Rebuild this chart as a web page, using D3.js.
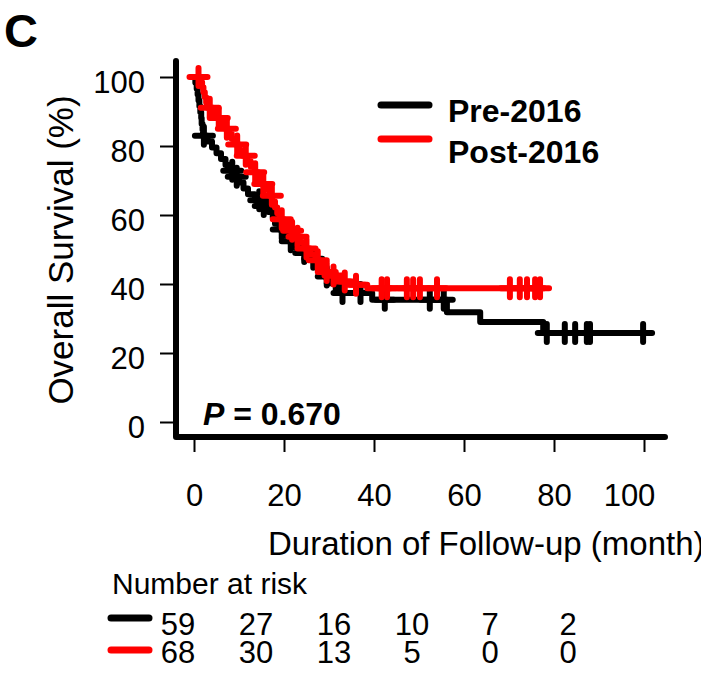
<!DOCTYPE html>
<html>
<head>
<meta charset="utf-8">
<script src="https://cdn.jsdelivr.net/npm/d3@7"></script>
<style>
  body { margin: 0; background: #fff; }
  svg { display: block; font-family: "Liberation Sans", Arial, sans-serif; }
</style>
</head>
<body>
<div id="chart"></div>
<script>
// Kaplan-Meier curves, values (month, survival %)
var groups = ["Pre-2016", "Post-2016"];
var colors = ["#000000", "#ff0000"];

var preTimes = [0, 0.3, 0.6, 0.8, 1.0, 1.2, 1.4, 1.6, 1.7, 1.9, 2.0, 3.0, 4.0, 5.0, 6.0, 7.0, 8.0, 9.0, 10.0, 11.0, 12.0, 13.5, 15.0, 16.5, 17.5, 18.0, 19.0, 20.0, 21.0, 22.0, 24.0, 26.0, 27.0, 28.0, 29.0, 30.0, 30.7, 32.4, 39.6, 56.2, 63.6, 77.6];
var preSurv  = [100, 98.3, 96.6, 94.9, 93.2, 91.5, 89.8, 88.1, 86.4, 84.7, 83.0, 81.3, 79.6, 77.9, 76.2, 74.5, 72.8, 71.1, 69.4, 67.7, 66.0, 64.3, 62.6, 60.9, 59.2, 57.5, 55.8, 54.1, 52.4, 50.7, 49.0, 47.3, 45.6, 43.9, 42.2, 41.2, 40.2, 37.4, 35.4, 31.8, 29.0, 25.8];
var preEnd = 100;
var preCensor = [2.2, 8.5, 9.5, 14.5, 15.5, 19.5, 21.5, 24.5, 26.5, 29.5, 31.5, 33, 37, 42.4, 52.4, 55.5, 78.4, 82.4, 84.7, 87.3, 88, 99.8];

var postTimes = [0, 1.5, 1.8, 2.1, 2.4, 2.7, 3.0, 4.2, 5.0, 6.0, 7.0, 7.8, 8.4, 9.2, 10.0, 10.8, 11.8, 12.6, 13.5, 14.3, 15.2, 16.0, 16.8, 17.4, 18.0, 18.5, 19.0, 20.0, 21.3, 22.5, 23.5, 24.5, 25.8, 27.0, 28.0, 29.0, 30.0, 31.5, 32.4, 34.7, 38.5];
var postSurv  = [100, 98.5, 97.0, 95.6, 94.1, 92.6, 91.1, 89.6, 88.1, 86.6, 85.0, 83.5, 82.0, 80.4, 78.8, 77.2, 75.6, 74.0, 72.4, 70.7, 69.0, 67.3, 65.6, 63.9, 62.2, 60.5, 58.8, 57.1, 55.4, 53.7, 52.0, 50.3, 48.6, 46.9, 45.2, 43.5, 42.5, 41.6, 40.7, 39.8, 38.8];
var postEnd = 77;
var postCensor = [1.0, 3.5, 5.5, 7.3, 9.6, 11.5, 13.6, 15.4, 17.3, 19.5, 21.8, 23, 25, 27.5, 29.5, 31, 33.5, 36, 41.7, 42.9, 47.3, 48.7, 50.2, 54, 70.2, 72.4, 74, 75.8, 76.9];

// number at risk table
var riskTimes = [0, 20, 40, 60, 80, 100];
var preRisk = [59, 27, 16, 10, 7, 2];
var postRisk = [68, 30, 13, 5, 0, 0];

var xTicks = [0, 20, 40, 60, 80, 100];
var yTicks = [0, 20, 40, 60, 80, 100];
var pText = "0.670";

var width = 701, height = 675;
var svg = d3.select("#chart").append("svg")
    .attr("width", width)
    .attr("height", height);

var x = d3.scaleLinear().domain([0, 100]).range([194, 644]);
var y = d3.scaleLinear().domain([0, 100]).range([422, 77]);
var xRisk = d3.scaleLinear().domain([0, 100]).range([178, 568]);

// panel letter
svg.append("text")
    .attr("x", 4).attr("y", 47)
    .style("font-size", "47px").style("font-weight", "bold")
    .text("C");

// y axis
var yAxis = svg.append("g")
    .attr("transform", "translate(176,0)")
    .call(d3.axisLeft(y).tickValues(yTicks).tickSize(16).tickPadding(15).tickFormat(d3.format("d")));
yAxis.select(".domain").remove();
yAxis.selectAll(".tick line").attr("stroke", "#000").attr("stroke-width", 2);
yAxis.selectAll(".tick text").style("font-size", "31px").attr("dy", "0.5em").attr("fill", "#000");

// x axis
var xAxis = svg.append("g")
    .attr("transform", "translate(0,440)")
    .call(d3.axisBottom(x).tickValues(xTicks).tickSize(12).tickPadding(32).tickFormat(d3.format("d")));
xAxis.select(".domain").remove();
xAxis.selectAll(".tick line").attr("stroke", "#000").attr("stroke-width", 2);
xAxis.selectAll(".tick text").style("font-size", "31px").attr("fill", "#000");
xAxis.selectAll(".tick text").filter(function(d) { return d === 100; }).attr("dx", -15);

// thick axis lines
svg.append("path")
    .attr("d", "M176,61 L176,437 L665,437")
    .attr("fill", "none").attr("stroke", "#000")
    .attr("stroke-width", 6).attr("stroke-linecap", "round").attr("stroke-linejoin", "round");

// axis titles
svg.append("text")
    .attr("transform", "translate(73,250) rotate(-90)")
    .attr("text-anchor", "middle")
    .style("font-size", "35px")
    .text("Overall Survival (%)");

svg.append("text")
    .attr("x", 268).attr("y", 555)
    .style("font-size", "33px")
    .text("Duration of Follow-up (month)");

// curves
function stepData(times, surv, end) {
    var d = times.map(function(t, i) { return {t: t, s: surv[i]}; });
    d.push({t: end, s: surv[surv.length - 1]});
    return d;
}
function survAt(times, surv, t) {
    var s = surv[0];
    for (var i = 0; i < times.length; i++) { if (times[i] <= t) s = surv[i]; }
    return s;
}

var line = d3.line()
    .x(function(d) { return x(d.t); })
    .y(function(d) { return y(d.s); })
    .curve(d3.curveStepAfter);

var series = [
    {times: preTimes, surv: preSurv, end: preEnd, censor: preCensor, color: colors[0]},
    {times: postTimes, surv: postSurv, end: postEnd, censor: postCensor, color: colors[1]}
];

var arm = 9;
series.forEach(function(sr) {
    var g = svg.append("g");
    g.append("path")
        .datum(stepData(sr.times, sr.surv, sr.end))
        .attr("d", line)
        .attr("fill", "none")
        .attr("stroke", sr.color)
        .attr("stroke-width", 6)
        .attr("stroke-linejoin", "round")
        .attr("stroke-linecap", "round");

    var marks = g.selectAll(".cens")
        .data(sr.censor)
        .enter().append("g")
        .attr("transform", function(t) {
            return "translate(" + x(t) + "," + y(survAt(sr.times, sr.surv, t)) + ")";
        });
    marks.append("path")
        .attr("d", "M" + (-arm) + ",0 H" + arm + " M0," + (-arm) + " V" + arm)
        .attr("stroke", sr.color)
        .attr("stroke-width", 6)
        .attr("stroke-linecap", "round");
});

// legend
var legend = svg.append("g");
groups.forEach(function(name, i) {
    legend.append("line")
        .attr("x1", 381).attr("x2", 429)
        .attr("y1", 105 + i * 34).attr("y2", 105 + i * 34)
        .attr("stroke", colors[i]).attr("stroke-width", 7).attr("stroke-linecap", "round");
    legend.append("text")
        .attr("x", 448).attr("y", 122 + i * 41)
        .style("font-size", "32px").style("font-weight", "bold")
        .text(name);
});

// p value
var pt = svg.append("text")
    .attr("x", 203).attr("y", 425)
    .style("font-size", "32px").style("font-weight", "bold");
pt.append("tspan").style("font-style", "italic").text("P");
pt.append("tspan").text(" = " + pText);

// number at risk
svg.append("text")
    .attr("x", 112).attr("y", 594)
    .style("font-size", "30px")
    .text("Number at risk");

[preRisk, postRisk].forEach(function(vals, i) {
    var yy = [618, 650][i];
    svg.append("line")
        .attr("x1", 111).attr("x2", 149)
        .attr("y1", yy).attr("y2", yy)
        .attr("stroke", colors[i]).attr("stroke-width", 7).attr("stroke-linecap", "round");
    svg.selectAll(".risk" + i)
        .data(vals)
        .enter().append("text")
        .attr("x", function(d, j) { return xRisk(riskTimes[j]); })
        .attr("y", [635, 663][i])
        .attr("text-anchor", "middle")
        .style("font-size", "31px")
        .text(function(d) { return d; });
});
</script>
</body>
</html>
